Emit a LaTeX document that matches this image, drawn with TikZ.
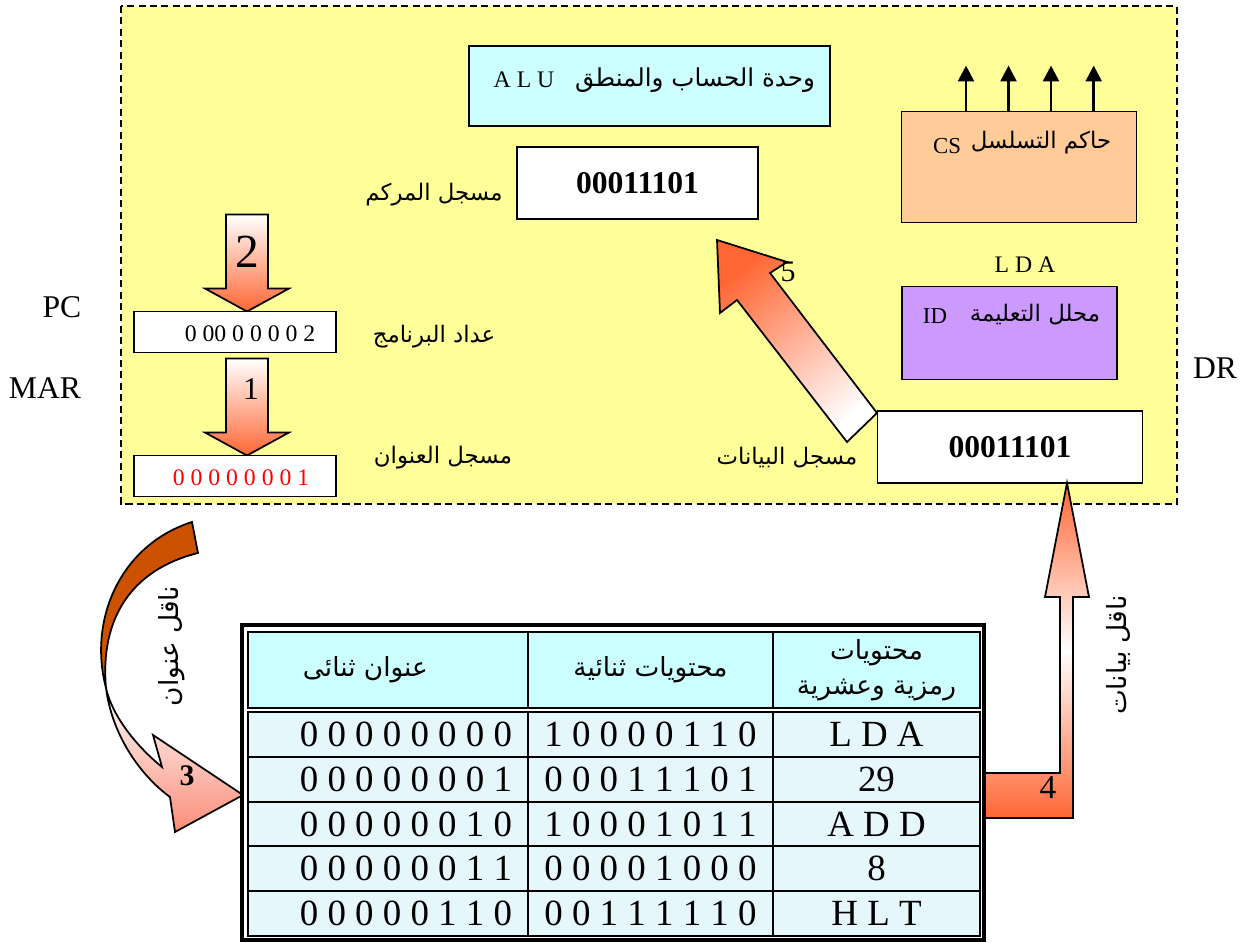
\documentclass[tikz,border=0pt]{standalone}
\usepackage{fontspec}
\setmainfont{Liberation Serif}
\newfontfamily\arabicfont[Script=Arabic]{DejaVu Sans}
\TeXXeTstate=1
\usetikzlibrary{calc,arrows.meta}
\definecolor{panelyellow}{RGB}{255,255,153}
\definecolor{alucyan}{RGB}{204,255,255}
\definecolor{cspeach}{RGB}{255,204,153}
\definecolor{idviolet}{RGB}{204,153,255}
\definecolor{arroworange}{RGB}{255,102,51}
\definecolor{busbrown}{RGB}{204,82,0}
\definecolor{headsalmon}{RGB}{250,140,120}
\definecolor{rowblue}{RGB}{230,247,251}
\def\px{0.02cm}
\newcommand{\arabtxt}[1]{{\arabicfont\beginR #1\endR}}
\newcommand{\downblock}[2]{\draw[blockarrow, top color=white, bottom color=arroworange] (#1) -- ++(-42,-23) -- ++(21,0) -- ++(0,{-(#2-23)}) -- ++(42,0) -- ++(0,{#2-23}) -- ++(21,0) -- cycle;}

\begin{document}
\begin{tikzpicture}[x=0.02cm, y=-0.02cm,
		regbox/.style={draw, line width=1.1pt, inner sep=0pt},
		lbl/.style={font=\fontsize{13}{16}\selectfont},
		tag/.style={font=\fontsize{18}{20}\selectfont},
		small/.style={font=\fontsize{13.5}{16}\selectfont},
		bignum/.style={font=\fontsize{18}{20}\selectfont\bfseries},
		blockarrow/.style={draw, line width=1pt, line join=miter},
		ctrlline/.style={line width=1.6pt, -{Triangle[length=9pt,width=9pt]}},
		cell/.style={draw, line width=1.1pt, inner sep=0pt, anchor=north west, fill=rowblue, minimum height=44.8*\px, font=\fontsize{21}{24}\selectfont}]
		%%%%% START %%%%%
		\useasboundingbox (0,0) rectangle (1244,943);
		
		\draw[fill=panelyellow, line width=1pt, dash pattern=on 4pt off 2.5pt] (121,6) rectangle (1177,504);
		
		% arrows inside the processor
		\downblock{$(247,311.5)$}{97}
		\downblock{$(247,455.5)$}{97}
		\node[font=\fontsize{27}{30}\selectfont] (two) at (247,252) {2};
		\node[font=\fontsize{18}{20}\selectfont] (one) at (251,389) {1};
		
		\draw[blockarrow, top color=arroworange, bottom color=white, shading angle=37.7] (847,442) -- (737,300) -- (720,313) -- (717,240) -- (787,262) -- (770,273) -- (877,413) -- cycle;
		\node[font=\fontsize{17}{20}\selectfont] (five) at (788,272) {5};
		
		% registers and units
		\node[regbox, fill=alucyan, minimum width=361*\px, minimum height=80*\px] (alu) at (649.5,86) {};
		\node[lbl, font=\fontsize{14}{16}\selectfont] (alutxt) at (695,80) {\arabtxt{وحدة الحساب والمنطق}};
		\node[small] (aluabbr) at (524,80) {A L U};
		
		\node[regbox, fill=white, minimum width=241*\px, minimum height=72*\px, bignum] (acc) at (637.5,183) {00011101};
		\node[lbl] (acclbl) at (434,195) {\arabtxt{مسجل المركم}};
		
		\node[regbox, fill=cspeach, minimum width=235*\px, minimum height=111*\px] (cs) at (1019,167) {};
		\node[lbl] (cstxt) at (1041,143) {\arabtxt{حاكم التسلسل}};
		\node[font=\fontsize{13}{16}\selectfont] (csabbr) at (947,146) {CS};
		\foreach \dx in {-53,-10.5,32,74.7}
			\draw[ctrlline] ($(cs.north)+(\dx,0)$) -- ++(0,-45);
		
		\node[small] (ldatxt) at (1025,265) {L D A};
		\node[regbox, fill=idviolet, minimum width=215*\px, minimum height=93*\px] (id) at (1009.5,333) {};
		\node[lbl] (idtxt) at (1035,315) {\arabtxt{محلل التعليمة}};
		\node[font=\fontsize{13}{16}\selectfont] (idabbr) at (935,316) {ID};
		
		\node[regbox, fill=white, minimum width=265*\px, minimum height=72*\px, bignum] (dr) at (1010,447) {00011101};
		\node[lbl] (drlbl) at (787,458) {\arabtxt{مسجل البيانات}};
		
		\node[regbox, fill=white, minimum width=202*\px, minimum height=41*\px] (pc) at (235,332) {};
		\node[small] (pcval) at (250,334) {0 00 0 0 0 0 2};
		\node[lbl] (pclbl) at (434,337) {\arabtxt{عداد البرنامج}};
		\node[regbox, fill=white, minimum width=202*\px, minimum height=41*\px] (mar) at (235,476) {};
		\node[small, text=red] (marval) at (241,478) {0 0 0 0 0 0 0 1};
		\node[lbl] (marlbl) at (443,458) {\arabtxt{مسجل العنوان}};
		
		\node[tag] (drtag) at (1215,368) {DR};
		\node[tag] (pctag) at (62,307) {PC};
		\node[tag] (martag) at (45,388) {MAR};
		
		% buses
		\draw[blockarrow, fill=busbrown] (192,522) .. controls (120,545) and (88,620) .. (106,688) .. controls (100,620) and (130,570) .. (198,553) -- cycle;
		\draw[blockarrow, top color=white, bottom color=headsalmon] (106,688) .. controls (112,735) and (140,775) .. (170,797) -- (175,832) -- (243,795) -- (153,735) -- (162,767) .. controls (135,745) and (112,715) .. (106,688) -- cycle;
		\node[font=\fontsize{17}{20}\selectfont\bfseries] (three) at (187,776) {3};
		\node[font=\fontsize{15}{18}\selectfont, rotate=90] (addrbus) at (172,646) {\arabtxt{ناقل عنوان}};
		
		\draw[blockarrow, top color=arroworange, bottom color=arroworange, middle color=white] (985,773) -- (1060,773) -- (1060,597) -- (1045,597) -- (1067,483) -- (1089,597) -- (1073,597) -- (1073,818) -- (985,818) -- cycle;
		\node[font=\fontsize{19}{22}\selectfont] (four) at (1048,788) {4};
		\node[font=\fontsize{15}{18}\selectfont, rotate=90] (databus) at (1118,655) {\arabtxt{ناقل بيانات}};
		
		% memory table
		\draw[fill=white, line width=2pt] (242,625) rectangle (984,940);
		\node[cell, fill=alucyan, minimum width=280*\px, minimum height=76*\px, font=\fontsize{15}{18}\selectfont] (h1) at (247,631) {\arabtxt{عنوان ثنائى}\hspace*{0.9cm}};
		\node[cell, fill=alucyan, minimum width=245*\px, minimum height=76*\px, font=\fontsize{15}{18}\selectfont] (h2) at (527,631) {\arabtxt{محتويات ثنائية}};
		\node[cell, fill=alucyan, minimum width=207*\px, minimum height=76*\px, font=\fontsize{15}{20}\selectfont, align=center] (h3) at (772,631) {\arabtxt{محتويات}\\\arabtxt{رمزية وعشرية}};
		\foreach \addr/\bin/\sym [count=\r from 0] in {0 0 0 0 0 0 0 0/1 0 0 0 0 1 1 0/L D A, 0 0 0 0 0 0 0 1/0 0 0 1 1 1 0 1/29, 0 0 0 0 0 0 1 0/1 0 0 0 1 0 1 1/A D D, 0 0 0 0 0 0 1 1/0 0 0 0 1 0 0 0/8, 0 0 0 0 0 1 1 0/0 0 1 1 1 1 1 0/H L T}
		{
			\node[cell, minimum width=280*\px] (a\r) at (247,{711+44.8*\r}) {\hspace*{0.72cm}\addr};
			\node[cell, minimum width=245*\px] (b\r) at (527,{711+44.8*\r}) {\bin};
			\node[cell, minimum width=207*\px] (c\r) at (772,{711+44.8*\r}) {\sym};
		}
		
		%%%%% END %%%%%
\end{tikzpicture}
\end{document}
